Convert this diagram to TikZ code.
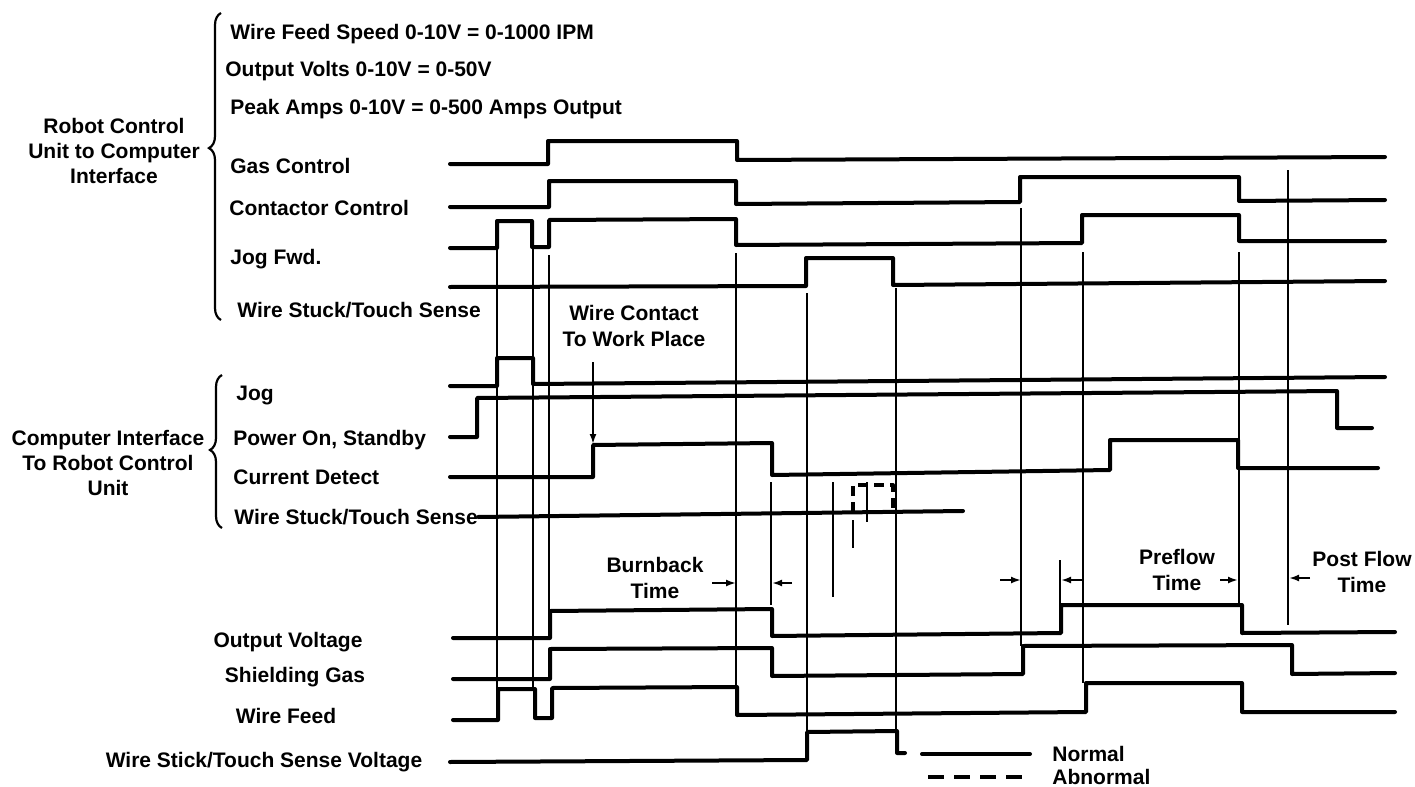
\documentclass[tikz,border=0pt]{standalone}
\usepackage{fontspec}
\setmainfont{Liberation Sans}
\usetikzlibrary{arrows.meta,decorations.pathreplacing}

\begin{document}
\begin{tikzpicture}[x=0.5pt, y=-0.5pt,
                    sig/.style={line width=2pt, line join=round, line cap=round},
                    guide/.style={line width=0.8pt},
                    dim/.style={-{Latex[length=5pt,width=3.5pt]}, line width=1pt},
                    brc/.style={decorate, decoration={brace, amplitude=6pt, aspect=#1}, line width=1.1pt},
                    lbl/.style={anchor=west, inner sep=0pt, font=\fontsize{10.5}{12}\selectfont\bfseries},
                    grp/.style={align=center, inner sep=0pt, font=\fontsize{10.5}{12.7}\selectfont\bfseries}]
    \useasboundingbox (0,0) rectangle (1415,787);

    \node[lbl] (wfs)      at (230,34)  {Wire Feed Speed 0-10V = 0-1000 IPM};
    \node[lbl] (ovolts)   at (225,71)  {Output Volts 0-10V = 0-50V};
    \node[lbl] (pamps)    at (230,109) {Peak Amps 0-10V = 0-500 Amps Output};
    \node[lbl] (gasctl)   at (230,166) {Gas Control};
    \node[lbl] (conctl)   at (229,208) {Contactor Control};
    \node[lbl] (jogfwd)   at (230,259) {Jog Fwd.};
    \node[lbl] (stuckout) at (237,310) {Wire Stuck/Touch Sense};
    \node[grp] (rcu)      at (114,151) {Robot Control\\Unit to Computer\\Interface};
    \draw[brc=0.56] (221,320) -- (221,13);

    \node[lbl] (jog)     at (236,395) {Jog};
    \node[lbl] (pwron)   at (233,440) {Power On, Standby};
    \node[lbl] (curdet)  at (233,477) {Current Detect};
    \node[lbl] (stuckin) at (234,517) {Wire Stuck/Touch Sense};
    \node[grp] (circ)    at (108,463) {Computer Interface\\To Robot Control\\Unit};
    \draw[brc=0.51] (222,528) -- (222,375);

    \node[grp] (outv)   at (288,642) {Output Voltage};
    \node[grp] (shgas)  at (295,677) {Shielding Gas};
    \node[grp] (wfeed)  at (286,716) {Wire Feed};
    \node[grp] (stickv) at (264,762) {Wire Stick/Touch Sense Voltage};

    \node[grp] (contact)  at (634,326)  {Wire Contact\\To Work Place};
    \node[grp] (burnback) at (655,578)  {Burnback\\Time};
    \node[grp] (preflow)  at (1177,570) {Preflow\\Time};
    \node[grp] (postflow) at (1362,572) {Post Flow\\Time};
    \node[lbl] (normal)   at (1052,754) {Normal};
    \node[lbl] (abnormal) at (1052,777) {Abnormal};

    \draw[sig] (450,164) -- (548,164) -- (548,141) -- (737,141) -- (737,160) -- (1385,157);
    \draw[sig] (450,207) -- (549,207) -- (549,181) -- (736,181) -- (736,204) -- (1020,202) -- (1020,177)
               -- (1239,177) -- (1239,201) -- (1385,200);
    \draw[sig] (450,248) -- (497,248) -- (497,221) -- (532,221) -- (532,247) -- (549,247) -- (549,220)
               -- (736,219) -- (736,245) -- (1082,243) -- (1082,215) -- (1239,215) -- (1239,241) -- (1385,241);
    \draw[sig] (450,287) -- (806,286) -- (806,258) -- (893,258) -- (893,285) -- (1385,281);

    \draw[sig] (450,386) -- (497,386) -- (497,358) -- (533,358) -- (533,384) -- (1385,377);
    \draw[sig] (450,437) -- (477,437) -- (477,398) -- (1337,391) -- (1337,428) -- (1372,428);
    \draw[sig] (450,477) -- (593,477) -- (593,445) -- (772,443) -- (772,475) -- (1110,470) -- (1110,440)
               -- (1238,440) -- (1238,468) -- (1378,468);
    \draw[sig] (stuckin.east) -- (963,511);

    \draw[sig] (453,638) -- (550,638) -- (550,611) -- (772,609) -- (772,636) -- (1061,633) -- (1061,605)
               -- (1242,605) -- (1242,633) -- (1395,632);
    \draw[sig] (453,679) -- (550,679) -- (550,649) -- (772,648) -- (772,676) -- (1023,674) -- (1023,646)
               -- (1292,645) -- (1292,674) -- (1395,673);
    \draw[sig] (453,720) -- (498,720) -- (498,689) -- (535,689) -- (535,718) -- (552,718) -- (552,688)
               -- (737,687) -- (737,715) -- (1086,712) -- (1086,683) -- (1242,683) -- (1242,712) -- (1395,712);
    \draw[sig] (450,762) -- (807,760) -- (807,732) -- (897,731) -- (897,753) -- (905,753);

    \draw[guide] (497,248) -- (497,689);
    \draw[guide] (533,247) -- (533,689);
    \draw[guide] (549,255) -- (549,638);
    \draw[guide] (736,253) -- (736,690);
    \draw[guide] (771,482) -- (771,605);
    \draw[guide] (807,293) -- (807,732);
    \draw[guide] (833,482) -- (833,597);
    \draw[guide] (896,288) -- (896,731);
    \draw[guide] (1021,208) -- (1021,646);
    \draw[guide] (1060,560) -- (1060,605);
    \draw[guide] (1083,252) -- (1083,683);
    \draw[guide] (1239,252) -- (1239,605);
    \draw[guide] (1288,170) -- (1288,625);

    \draw[sig, line cap=butt, dash pattern=on 5pt off 3pt] (853,512) -- (853,485) -- (893,485) -- (893,512);
    \draw[guide] (867,482) -- (867,522);
    \draw[guide, line width=1.3pt] (853,520) -- (853,548);

    \coordinate (cdrise) at (593,444);
    \draw[dim] (593,362) -- (cdrise);
    \draw[dim] (712,583) -- (736,583);
    \draw[dim] (792,583) -- (772,583);
    \draw[dim] (1000,580) -- (1021,580);
    \draw[dim] (1082,580) -- (1061,580);
    \draw[dim] (1220,580) -- (1238,580);
    \draw[dim] (1310,578) -- (1289,578);

    \draw[sig] (922,754) -- (normal.west -| 1030,0);
    \draw[sig, line cap=butt, dash pattern=on 8pt off 5pt] (928,777) -- (abnormal.west -| 1030,0);
\end{tikzpicture}
\end{document}
